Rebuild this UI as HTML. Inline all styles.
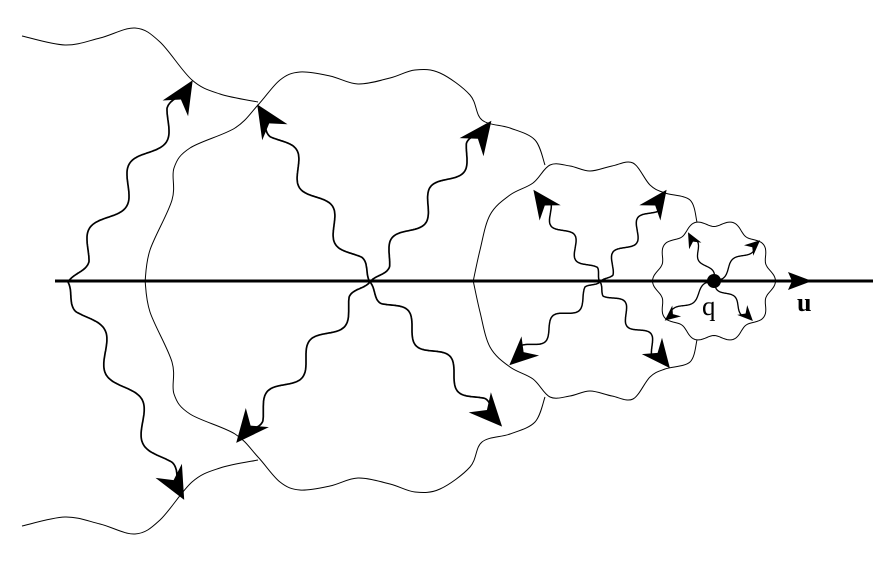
<!DOCTYPE html>
<html><head><meta charset="utf-8"><style>
html,body{margin:0;padding:0;background:#fff;width:894px;height:576px;overflow:hidden}
svg{display:block}
text{font-family:"Liberation Serif",serif}
</style></head><body>
<svg id="s" width="894" height="576" viewBox="0 0 894 576" xmlns="http://www.w3.org/2000/svg">
<g id="thin" fill="none" stroke="#000" stroke-width="1"></g>
<g id="rays" fill="none" stroke="#000" stroke-width="1.6"></g>
<g id="heads" fill="#000"></g>
<line x1="55" y1="281" x2="873" y2="281" stroke="#000" stroke-width="3"/>
<polygon points="788,272 812,281 788,290 792,281" fill="#000"/>
<circle cx="714" cy="281" r="7" fill="#000"/>
<text x="702" y="315" font-size="27">q</text>
<text x="797" y="311" font-size="26" font-weight="bold">u</text>
</svg>
<script>
var NS="http://www.w3.org/2000/svg";
function cr(p){var d="M"+p[0][0]+","+p[0][1];for(var i=0;i<p.length-1;i++){var a=p[Math.max(i-1,0)],b=p[i],c=p[i+1],e=p[Math.min(i+2,p.length-1)];d+=" C"+(b[0]+(c[0]-a[0])/6).toFixed(1)+","+(b[1]+(c[1]-a[1])/6).toFixed(1)+" "+(c[0]-(e[0]-b[0])/6).toFixed(1)+","+(c[1]-(e[1]-b[1])/6).toFixed(1)+" "+c[0]+","+c[1];}return d;}
function add(g,d,sw){var e=document.createElementNS(NS,"path");e.setAttribute("d",d);if(sw)e.setAttribute("stroke-width",sw);document.getElementById(g).appendChild(e);}
function mir(p){return p.map(function(q){return [q[0],562-q[1]];});}
function both(p){add("thin",cr(p));add("thin",cr(mir(p)));}
both([[22,36],[65,45],[100,38],[135,28],[160,42],[192,80],[220,94],[258,102]]);
both([[145,282],[150,250],[172,200],[174,168],[190,148],[235,128],[258,105],[280,80],[300,72],[330,76],[358,84],[390,78],[415,70],[440,73],[470,95],[482,120],[510,128],[535,140],[545,165]]);
both([[473,282],[480,250],[490,215],[510,195],[533,183],[550,165],[570,166],[590,171],[612,166],[633,163],[650,185],[665,193],[690,200],[697,222]]);
var p=[];for(var i=0;i<=200;i++){var t=i/200*2*Math.PI;var r=58+3.5*Math.cos(10*t);p.push([(714+r*Math.cos(t)).toFixed(1),(281+r*Math.sin(t)).toFixed(1)]);}
add("thin","M"+p.map(function(q){return q.join(",")}).join(" L")+"Z");
function ray(x0,y0,x1,y1,n,amp,hs,sw){var dx=x1-x0,dy=y1-y0,L=Math.hypot(dx,dy),ux=dx/L,uy=dy/L,nx=-uy,ny=ux,pts=[];
for(var i=0;i<=240;i++){var t=i/240;var w=amp*Math.sin(t*n*2*Math.PI)*Math.min(1,t*8,(1-t)*8);pts.push([(x0+dx*t+nx*w).toFixed(1),(y0+dy*t+ny*w).toFixed(1)]);}
add("rays","M"+pts.map(function(q){return q.join(",")}).join(" L"),sw);
var tx=x1+ux*hs*0.3,ty=y1+uy*hs*0.3,bx=x1-ux*hs*0.8,by=y1-uy*hs*0.8,mx=x1-ux*hs*0.45,my=y1-uy*hs*0.45;
var h=document.createElementNS(NS,"polygon");h.setAttribute("points",[tx,ty,bx+nx*hs*0.5,by+ny*hs*0.5,mx,my,bx-nx*hs*0.5,by-ny*hs*0.5].map(function(v){return v.toFixed(1)}).join(","));document.getElementById("heads").appendChild(h);}
ray(68,282,188,88,3,10,30,1.7);ray(68,282,180,492,3,10,30,1.7);
ray(370,282,262,112,3,9,30,1.7);ray(370,282,486,128,3,9,30,1.7);
ray(370,282,242,436,3,9,30,1.7);ray(370,282,496,420,3,9,30,1.7);
ray(600,282,538,196,2.5,7,26,1.5);ray(600,282,662,196,2.5,7,26,1.5);
ray(600,282,515,360,2.5,7,26,1.5);ray(600,282,665,362,2.5,7,26,1.5);
ray(714,281,690,236,1.5,4,14,1.3);ray(714,281,757,243,1.5,4,14,1.3);
ray(714,281,668,318,1.5,4,14,1.3);ray(714,281,750,318,1.5,4,14,1.3);
</script>
</body></html>
